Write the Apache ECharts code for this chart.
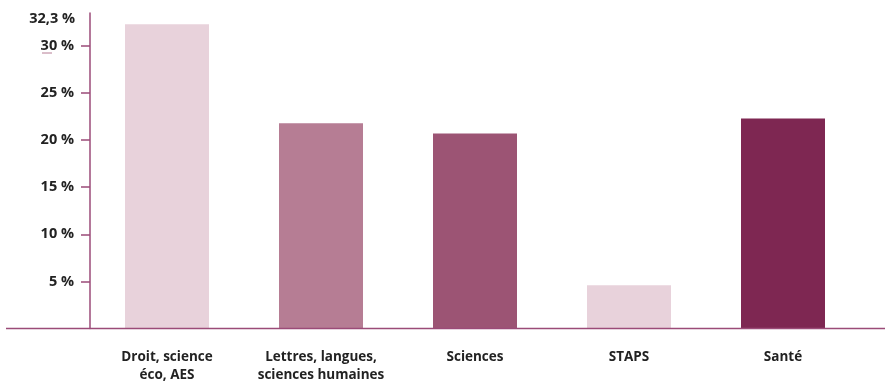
<!DOCTYPE html>
<html>
<head>
<meta charset="utf-8">
<script src="https://cdn.jsdelivr.net/npm/echarts@6/dist/echarts.min.js"></script>
<style>
  html, body { margin: 0; padding: 0; background: #fff; }
  #chart { width: 885px; height: 381px; }
</style>
</head>
<body>
<div id="chart"></div>
<script>
const categories = ['Droit, science\néco, AES', 'Lettres, langues,\nsciences humaines', 'Sciences', 'STAPS', 'Santé']
const values = [32.3, 21.8, 20.7, 4.6, 22.3]
const barColors = ['#e8d2db', '#b67d94', '#9c5474', '#e8d2db', '#7e2752']
const yTicks = [5, 10, 15, 20, 25, 30]
const topLabel = '32,3 %'

const AXIS = '#9b4b78'
const FONT = 'Open Sans'

const chart = echarts.init(document.getElementById('chart'), null, { renderer: 'canvas' })

const option = {
  animation: false,
  grid: { left: 90, right: 25, top: 13, bottom: 52.5, outerBoundsMode: 'none' },
  xAxis: {
    type: 'category',
    data: categories,
    axisLine: { show: false },
    axisTick: { show: false },
    axisLabel: {
      interval: 0,
      hideOverlap: false,
      color: '#222',
      fontFamily: FONT,
      fontWeight: 'bold',
      fontSize: 13.5,
      lineHeight: 18,
      margin: 20
    }
  },
  yAxis: {
    type: 'value',
    min: 0,
    max: 33.5,
    interval: 5,
    splitLine: { show: false },
    axisLine: { show: true, lineStyle: { color: AXIS, width: 1.5 } },
    axisTick: { show: true, length: 9, customValues: yTicks, lineStyle: { color: AXIS, width: 1.5 } },
    axisLabel: {
      customValues: yTicks,
      formatter: v => v + ' %',
      color: '#222',
      fontFamily: FONT,
      fontWeight: 'bold',
      fontSize: 14.5,
      margin: 16
    }
  },
  series: [{
    type: 'bar',
    barWidth: 84,
    data: values.map((v, i) => ({ value: v, itemStyle: { color: barColors[i] } }))
  }]
}
chart.setOption(option)

// baseline across the full width, and the top value label
const y0 = chart.convertToPixel({ yAxisIndex: 0 }, 0)
chart.setOption({
  graphic: [
    { type: 'line', shape: { x1: 6, y1: y0, x2: 885, y2: y0 }, style: { stroke: AXIS, lineWidth: 1.5 }, z: 10 },
    { type: 'text', x: 75, y: 19, style: { text: topLabel, align: 'right', verticalAlign: 'middle', fill: '#222', font: 'bold 14.5px ' + FONT } },
    { type: 'line', shape: { x1: 42, y1: 53, x2: 52, y2: 53 }, style: { stroke: '#b67d94', lineWidth: 1 } }
  ]
})
</script>
</body>
</html>
